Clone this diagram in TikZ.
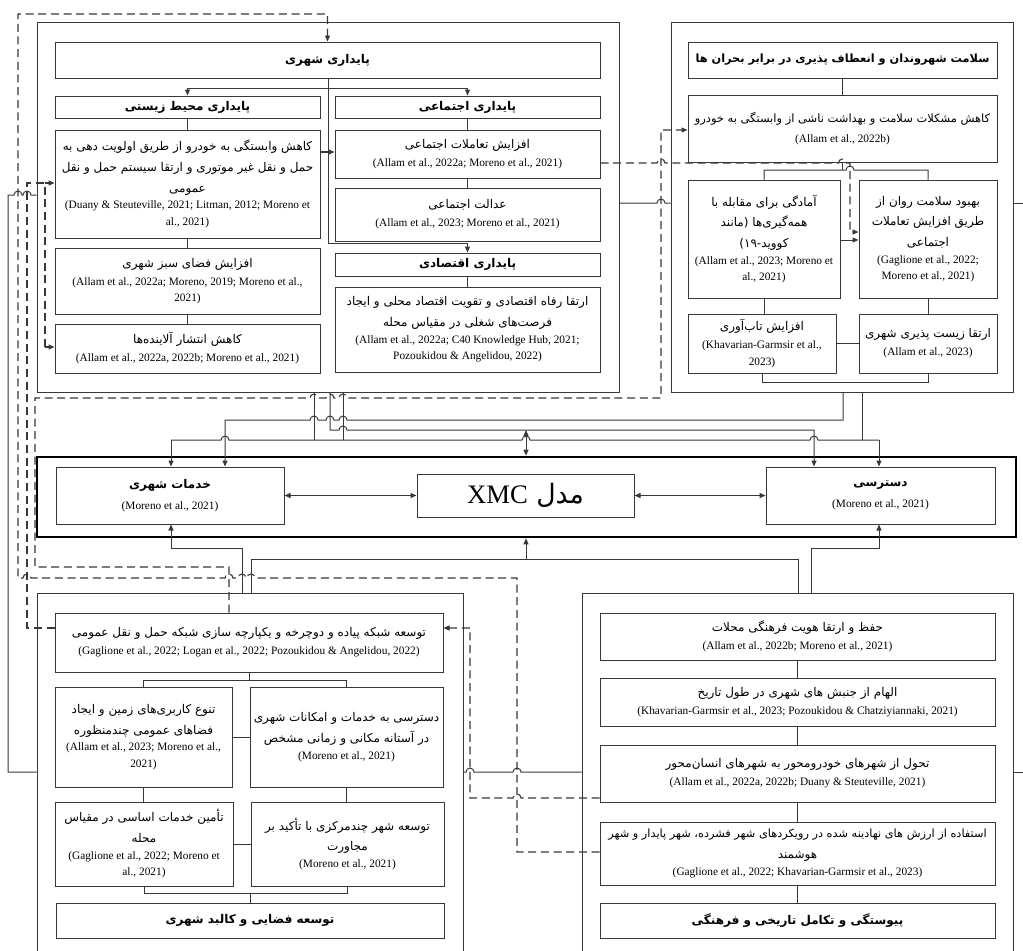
\documentclass[tikz,border=0pt]{standalone}
\usepackage{fontspec}
\setmainfont{Liberation Serif}
\newfontfamily\arabicfont[Script=Arabic]{DejaVu Sans}
\TeXXeTstate=1
\usetikzlibrary{arrows.meta}
\newcommand\pfa[1]{{\arabicfont\beginR #1\endR}}
\newcommand\pfb[1]{{\arabicfont\bfseries\beginR #1\endR}}
\newcommand\cit[1]{{\fontsize{8.5}{10.5}\selectfont #1}}
\newcommand\mybox[7]{%
 \pgfmathsetmacro\bcx{(#3+#5)/2}%
 \pgfmathsetmacro\bcy{(#4+#6)/2}%
 \pgfmathsetmacro\bw{(#5-#3)*0.75}%
 \pgfmathsetmacro\bh{(#6-#4)*0.75}%
 \node[#1, minimum width=\bw pt, minimum height=\bh pt] (#2) at (\bcx,\bcy) {#7};}
\definecolor{lc}{gray}{0.22}
\begin{document}
\begin{tikzpicture}[x=0.75pt,y=-0.75pt,
  bx/.style={draw=lc, line width=0.75pt, inner sep=0pt, align=center, font=\fontsize{9}{12.5}\selectfont},
  hb/.style={bx, font=\fontsize{9}{12}\selectfont},
  cont/.style={draw=lc, line width=0.75pt, inner sep=0pt},
  ln/.style={draw=lc, line width=0.75pt},
  dl/.style={draw=lc, line width=0.85pt, dash pattern=on 6pt off 3.5pt},
  arr/.style={-{Triangle[length=4.5pt,width=3.8pt]}},
  darr/.style={{Triangle[length=4.5pt,width=3.8pt]}-{Triangle[length=4.5pt,width=3.8pt]}},
  hr/.style={insert path={arc[start angle=180,end angle=0,radius=3pt]}},
  hl/.style={insert path={arc[start angle=0,end angle=180,radius=3pt]}},
]
\useasboundingbox (0,0) rectangle (1023,950);

% ---------------- containers ----------------
\mybox{cont}{cA}{37}{22}{619}{392}{}
\mybox{cont}{cB}{671}{22}{1013}{392}{}
\mybox{cont}{cC}{37}{593}{463}{990}{}
\mybox{cont}{cD}{582}{593}{1013}{990}{}
\mybox{draw=black, line width=2pt, inner sep=0pt}{fr}{37}{457}{1016}{537}{}

% ---------------- container A ----------------
\mybox{hb}{tA}{55}{42}{600}{78}{\pfb{پایداری شهری}}
\mybox{hb}{hEnv}{55}{96}{320}{118}{\pfb{پایداری محیط زیستی}}
\mybox{hb}{hSoc}{335}{96}{600}{118}{\pfb{پایداری اجتماعی}}
\mybox{bx}{e1}{55}{130}{320}{238}{\pfa{کاهش وابستگی به خودرو از طریق اولویت دهی به}\\[3pt]
 \pfa{حمل و نقل غیر موتوری و ارتقا سیستم حمل و نقل}\\[3pt]
 \pfa{عمومی}\\
 \cit{(Duany \& Steuteville, 2021; Litman, 2012; Moreno et}\\
 \cit{al., 2021)}}
\mybox{bx}{e2}{55}{248}{320}{314}{\pfa{افزایش فضای سبز شهری}\\[1pt]
 \cit{(Allam et al., 2022a; Moreno, 2019; Moreno et al.,}\\
 \cit{2021)}}
\mybox{bx}{e3}{55}{324}{320}{373}{\pfa{کاهش انتشار آلاینده‌ها}\\[1pt]
 \cit{(Allam et al., 2022a, 2022b; Moreno et al., 2021)}}
\mybox{bx}{s1}{335}{130}{600}{178}{\pfa{افزایش تعاملات اجتماعی}\\[1pt]
 \cit{(Allam et al., 2022a; Moreno et al., 2021)}}
\mybox{bx}{s2}{335}{188}{600}{241}{\pfa{عدالت اجتماعی}\\[1pt]
 \cit{(Allam et al., 2023; Moreno et al., 2021)}}
\mybox{hb}{hEco}{335}{253}{600}{276}{\pfb{پایداری اقتصادی}}
\mybox{bx}{eco}{335}{287}{600}{372}{\pfa{ارتقا رفاه اقتصادی و تقویت اقتصاد محلی و ایجاد}\\[3pt]
 \pfa{فرصت‌های شغلی در مقیاس محله}\\
 \cit{(Allam et al., 2022a; C40 Knowledge Hub, 2021;}\\
 \cit{Pozoukidou \& Angelidou, 2022)}}

% ---------------- container B ----------------
\mybox{hb}{tB}{688}{42}{997}{78}{{\fontsize{8.5}{11}\selectfont\pfb{سلامت شهروندان و انعطاف پذیری در برابر بحران ها}}}
\mybox{bx}{b1}{688}{95}{997}{162}{{\fontsize{8.6}{11}\selectfont\pfa{کاهش مشکلات سلامت و بهداشت ناشی از وابستگی به خودرو}}\\[3pt]
 \cit{(Allam et al., 2022b)}}
\mybox{bx}{b2}{688}{180}{840}{298}{\pfa{آمادگی برای مقابله با}\\[3pt]
 \pfa{همه‌گیری‌ها (مانند}\\[3pt]
 \pfa{کووید-۱۹)}\\
 \cit{(Allam et al., 2023; Moreno et}\\
 \cit{al., 2021)}}
\mybox{bx}{b3}{859}{180}{997}{298}{\pfa{بهبود سلامت روان از}\\[3pt]
 \pfa{طریق افزایش تعاملات}\\[3pt]
 \pfa{اجتماعی}\\
 \cit{(Gaglione et al., 2022;}\\
 \cit{Moreno et al., 2021)}}
\mybox{bx}{b4}{688}{314}{836}{373}{\pfa{افزایش تاب‌آوری}\\[1pt]
 \cit{(Khavarian-Garmsir et al.,}\\
 \cit{2023)}}
\mybox{bx}{b5}{859}{314}{997}{373}{\pfa{ارتقا زیست پذیری شهری}\\[1pt]
 \cit{(Allam et al., 2023)}}

% ---------------- centre ----------------
\mybox{bx}{srv}{56}{467}{284}{524}{\pfb{خدمات شهری}\\[3pt] \cit{(Moreno et al., 2021)}}
\mybox{bx}{xmc}{417}{474}{634}{517}{{\fontsize{20}{24}\selectfont\pfa{مدل \beginL{\rmfamily XMC}\endL}}}
\mybox{bx}{acc}{766}{467}{995}{524}{\pfb{دسترسی}\\[3pt] \cit{(Moreno et al., 2021)}}

% ---------------- container C ----------------
\mybox{bx}{c1}{55}{613}{443}{672}{\pfa{توسعه شبکه پیاده و دوچرخه و یکپارچه سازی شبکه حمل و نقل عمومی}\\[1pt]
 \cit{(Gaglione et al., 2022; Logan et al., 2022; Pozoukidou \& Angelidou, 2022)}}
\mybox{bx}{c2}{55}{687}{232}{787}{\pfa{تنوع کاربری‌های زمین و ایجاد}\\[3pt]
 \pfa{فضاهای عمومی چندمنظوره}\\
 \cit{(Allam et al., 2023; Moreno et al.,}\\
 \cit{2021)}}
\mybox{bx}{c3}{250}{687}{443}{787}{\pfa{دسترسی به خدمات و امکانات شهری}\\[3pt]
 \pfa{در آستانه مکانی و زمانی مشخص}\\
 \cit{(Moreno et al., 2021)}}
\mybox{bx}{c4}{55}{802}{233}{886}{\pfa{تأمین خدمات اساسی در مقیاس}\\[3pt]
 \pfa{محله}\\
 \cit{(Gaglione et al., 2022; Moreno et}\\
 \cit{al., 2021)}}
\mybox{bx}{c5}{251}{802}{444}{886}{\pfa{توسعه شهر چندمرکزی با تأکید بر}\\[3pt]
 \pfa{مجاورت}\\
 \cit{(Moreno et al., 2021)}}
\mybox{hb}{c6}{56}{903}{444}{938}{\pfb{توسعه فضایی و کالبد شهری}}

% ---------------- container D ----------------
\mybox{bx}{d1}{600}{613}{995}{660}{\pfa{حفظ و ارتقا هویت فرهنگی محلات}\\[1pt]
 \cit{(Allam et al., 2022b; Moreno et al., 2021)}}
\mybox{bx}{d2}{600}{678}{995}{726}{\pfa{الهام از جنبش های شهری در طول تاریخ}\\[1pt]
 \cit{(Khavarian-Garmsir et al., 2023; Pozoukidou \& Chatziyiannaki, 2021)}}
\mybox{bx}{d3}{600}{745}{995}{802}{\pfa{تحول از شهرهای خودرومحور به شهرهای انسان‌محور}\\[1pt]
 \cit{(Allam et al., 2022a, 2022b; Duany \& Steuteville, 2021)}}
\mybox{bx}{d4}{600}{822}{995}{885}{{\fontsize{8.5}{11}\selectfont\pfa{استفاده از ارزش های نهادینه شده در رویکردهای شهر فشرده، شهر پایدار و شهر}}\\[3pt]
 \pfa{هوشمند}\\
 \cit{(Gaglione et al., 2022; Khavarian-Garmsir et al., 2023)}}
\mybox{hb}{d5}{600}{903}{995}{938}{\pfb{پیوستگی و تکامل تاریخی و فرهنگی}}

\coordinate (rB) at (1030,203);
\coordinate (rD) at (1030,772);

% ---------------- connectors inside A ----------------
\draw[ln] (328,0 |- tA.south) -- (328,88);
\draw[ln,arr] (328,88) -| (hEnv.north);
\draw[ln,arr] (328,88) -| (hSoc.north);
\draw[ln,arr] (328,88) -- (328,243) -| (hEco.north);
\draw[ln] (hEnv.south) -- (e1.north) (e1.south) -- (e2.north) (e2.south) -- (e3.north);
\draw[ln] (hSoc.south) -- (s1.north) (s1.south) -- (s2.north) (hEco.south) -- (eco.north);
\draw[dl,arr] (e1.east |- 0,152) -- (s1.west |- 0,152);

% ---------------- connectors inside B ----------------
\draw[ln] (tB.south) -- (b1.north);
\draw[ln] (b1.south) -- (b1.south |- 0,170);
\draw[ln] (b2.north) -- (b2.north |- 0,170) -- (846,170) [hr] -- (b3.north |- 0,170) -- (b3.north);
\draw[ln] (b2.south) -- (b2.south |- b4.north);
\draw[ln] (b3.south) -- (b5.north);
\draw[ln] (b4.east) -- (b5.west);
\draw[ln] (b4.south) -- (b4.south |- 0,382) -- (b5.south |- 0,382) -- (b5.south);
\draw[ln,arr] (b2.east |- 0,240) -- (b3.west |- 0,240);

% ---------------- connectors inside C ----------------
\draw[ln] (c1.south) -- (c1.south |- 0,680);
\draw[ln] (c2.north) -- (c2.north |- 0,680) -- (c3.north |- 0,680) -- (c3.north);
\draw[ln] (c2.east) -- (c3.west);
\draw[ln] (c2.south) -- (c2.south |- c4.north);
\draw[ln] (c3.south) -- (c3.south |- c5.north);
\draw[ln] (c4.east) -- (c5.west);
\draw[ln] (c4.south) -- (c4.south |- 0,893) -- (c5.south |- 0,893) -- (c5.south);
\draw[ln] (c6.north) -- (c6.north |- 0,893);

% ---------------- connectors inside D ----------------
\draw[ln] (d1.south) -- (d2.north) (d2.south) -- (d3.north) (d3.south) -- (d4.north) (d4.south) -- (d5.north);

% ---------------- centre arrows ----------------
\draw[ln,darr] (srv.east) -- (xmc.west);
\draw[ln,darr] (xmc.east) -- (acc.west);

% top bundle
\draw[ln,arr] (843,0 |- cB.south) -- (843,420) -- (347,420) [hl] -- (334,420) [hl] -- (318,420) [hl] -- (225,420) -- (225,0 |- srv.north);
\draw[ln,arr] (330,0 |- cA.south) -- (330,430) -- (339,430) [hr] -- (814,430) -- (814,0 |- acc.north);
\draw[ln,darr] (526,430) -- (526,0 |- fr.north);
\draw[ln] (171,440) -- (221,440) [hr] -- (522,440) [hr] -- (810,440) [hr] -- (879,440);
\draw[ln,arr] (171,440) -- (171,0 |- srv.north);
\draw[ln,arr] (879,440) -- (879,0 |- acc.north);
\draw[ln] (314,0 |- cA.south) -- (314,440);
\draw[ln] (343,0 |- cA.south) -- (343,440);
\draw[ln] (862,0 |- cB.south) -- (862,440);

% bottom bundle
\draw[ln,arr] (242,0 |- cC.north) -- (242,548) -- (171,548) -- (171,0 |- srv.south);
\draw[ln] (251,0 |- cC.north) -- (251,559) -- (798,559) -- (798,0 |- cD.north);
\draw[ln,arr] (526,559) -- (526,0 |- fr.south);
\draw[ln,arr] (811,0 |- cD.north) -- (811,548) -- (879,548) -- (879,0 |- acc.south);

% container links
\draw[ln] (cA.east |- 0,203) -- (657,203) [hr] -- (cB.west |- 0,203);
\draw[ln] (cB.east |- 0,203) -- (rB);
\draw[ln] (cA.west |- 0,195) -- (31,195) [hl] -- (22,195) [hl] -- (8,195) -- (8,772) -- (cC.west |- 0,772);
\draw[ln] (cC.east |- 0,772) -- (466,772) [hr] -- (513,772) [hr] -- (cD.west |- 0,772);
\draw[ln] (cD.east |- 0,772) -- (rD);

% ---------------- dashed influences ----------------
\draw[dl,arr] (d4.west |- 0,852) -- (517,852) -- (517,578) -- (255,578) [hl] -- (246,578) [hl] -- (233,578) [hl] -- (31,578) [hl] -- (18,578) -- (18,14) -- (327.5,14) -- (tA.north);
\draw[dl,arr] (d3.west |- 0,798) -- (521,798) [hl] -- (470,798) -- (470,628) -- (c1.east |- 0,628);
\draw[dl,arr] (229,0 |- c1.north) -- (229,567) -- (35,567) -- (35,398) -- (310,398) [hr] -- (326,398) [hr] -- (339,398) [hr] -- (661,398) -- (661,130) -- (b1.west |- 0,130);
\draw[dl] (c1.west |- 0,628) -- (27,628) -- (27,183) -- (45,183) -- (45,347);
\draw[dl,arr] (45,183) -- (e1.west |- 0,183);
\draw[dl,arr] (45,347) -- (e3.west |- 0,347);
\draw[dl,arr] (s1.east |- 0,163) -- (657,163) [hr] -- (838.5,163) [hr] -- (850,163) -- (850,232) -- (b3.west |- 0,232);
\end{tikzpicture}
\end{document}
